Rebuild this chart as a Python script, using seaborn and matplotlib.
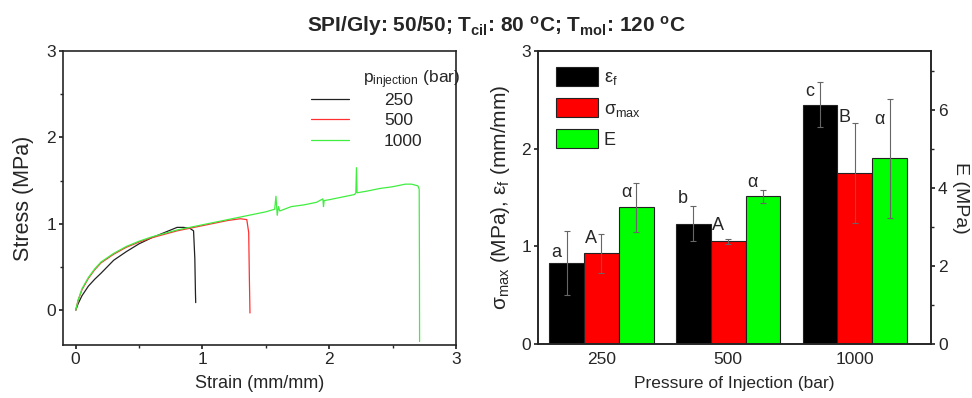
import pandas as pd
import matplotlib
matplotlib.use('Agg')
import matplotlib.pyplot as plt
import seaborn as sns

# stress-strain curves
strain_250 = [0, 0.02, 0.05, 0.1, 0.15, 0.2, 0.3, 0.4, 0.5, 0.6, 0.7, 0.8, 0.85, 0.9, 0.93, 0.94, 0.945, 0.947]
stress_250 = [0, 0.08, 0.17, 0.28, 0.36, 0.43, 0.58, 0.68, 0.77, 0.84, 0.9, 0.96, 0.96, 0.95, 0.92, 0.6, 0.2, 0.09]

strain_500 = [0, 0.02, 0.05, 0.1, 0.15, 0.2, 0.3, 0.4, 0.5, 0.6, 0.7, 0.8, 0.9, 1.0, 1.1, 1.2, 1.3, 1.35, 1.365, 1.37, 1.375]
stress_500 = [0, 0.12, 0.24, 0.37, 0.47, 0.55, 0.65, 0.73, 0.79, 0.84, 0.88, 0.92, 0.95, 0.98, 1.01, 1.04, 1.06, 1.05, 0.9, 0.4, -0.03]

strain_1000 = [0, 0.02, 0.05, 0.1, 0.15, 0.2, 0.3, 0.4, 0.5, 0.6,
               0.7, 0.8, 0.9, 1.0, 1.1, 1.2, 1.3, 1.4, 1.5, 1.57,
               1.58, 1.59, 1.6, 1.61, 1.7, 1.8, 1.9, 1.95, 1.955, 1.96,
               2.0, 2.1, 2.2, 2.21, 2.215, 2.22, 2.3, 2.4, 2.5, 2.6,
               2.65, 2.7, 2.71, 2.712, 2.713]
stress_1000 = [0, 0.12, 0.25, 0.38, 0.48, 0.56, 0.66, 0.74, 0.8, 0.85,
               0.89, 0.93, 0.96, 0.99, 1.02, 1.05, 1.08, 1.11, 1.14, 1.17,
               1.32, 1.1, 1.2, 1.15, 1.2, 1.22, 1.25, 1.29, 1.2, 1.27,
               1.28, 1.31, 1.34, 1.36, 1.65, 1.36, 1.38, 1.41, 1.43, 1.46,
               1.46, 1.44, 1.4, 0.5, -0.36]

# bar chart values
pressures = ['250', '500', '1000']
eps_f = [0.83, 1.23, 2.45]
eps_f_err = [0.33, 0.18, 0.23]
sigma_max = [0.93, 1.05, 1.75]
sigma_max_err = [0.20, 0.025, 0.51]
E_mpa = [3.50, 3.78, 4.75]
E_err = [0.63, 0.17, 1.53]

letters = [['a', 'b', 'c'], ['A', 'A', 'B'], ['α', 'α', 'α']]
letter_y = [[0.94, 1.49, 2.59], [1.08, 1.21, 2.32], [1.55, 1.65, 2.30]]

sns.set_theme(style='ticks')
plt.rcParams['font.family'] = ['Liberation Sans', 'DejaVu Sans']
plt.rcParams['mathtext.fontset'] = 'custom'
plt.rcParams['mathtext.rm'] = 'Liberation Sans'
plt.rcParams['mathtext.it'] = 'Liberation Sans:italic'
plt.rcParams['mathtext.bf'] = 'Liberation Sans:bold'
plt.rcParams['mathtext.default'] = 'regular'
plt.rcParams['axes.linewidth'] = 1.2
plt.rcParams['xtick.major.size'] = 3
plt.rcParams['ytick.major.size'] = 3
plt.rcParams['xtick.minor.size'] = 2
plt.rcParams['ytick.minor.size'] = 2

fig = plt.figure(figsize=(9.72, 3.98), dpi=100)
ax1 = fig.add_axes([0.0648, 0.1332, 0.4043, 0.7387])
ax2 = fig.add_axes([0.5535, 0.1357, 0.4043, 0.7362])

# left: stress-strain
curves = pd.concat([
    pd.DataFrame({'strain': strain_250, 'stress': stress_250, 'p': '250'}),
    pd.DataFrame({'strain': strain_500, 'stress': stress_500, 'p': '500'}),
    pd.DataFrame({'strain': strain_1000, 'stress': stress_1000, 'p': '1000'}),
])
line_colors = {'250': '#222222', '500': '#ff3030', '1000': '#40ee40'}
sns.lineplot(data=curves, x='strain', y='stress', hue='p', palette=line_colors,
             sort=False, estimator=None, linewidth=0.9, ax=ax1)
ax1.set_xlim(-0.1, 3)
ax1.set_ylim(-0.4, 3)
ax1.set_xticks([0, 1, 2, 3])
ax1.set_yticks([0, 1, 2, 3])
ax1.set_xticks([0.5, 1.5, 2.5], minor=True)
ax1.set_yticks([0.5, 1.5, 2.5], minor=True)
ax1.tick_params(labelsize=12.5, pad=2)
ax1.set_xlabel('Strain (mm/mm)', fontsize=13, labelpad=6)
ax1.set_ylabel('Stress (MPa)', fontsize=15.5, labelpad=9)
ax1.legend(frameon=False, fontsize=12.5, loc='upper left', bbox_to_anchor=(0.631, 0.858),
           borderpad=0, borderaxespad=0, handlelength=2.2, handletextpad=2.0,
           labelspacing=0.3)
ax1.text(0.763, 0.902, r'p$_{injection}$ (bar)', transform=ax1.transAxes,
         ha='left', va='center', fontsize=12.5)

# right: bars (E drawn on its own scale via conversion to the left axis)
E_scale = 3 / 7.5
bars = pd.DataFrame({
    'p': pressures * 3,
    'prop': ['eps'] * 3 + ['sigma'] * 3 + ['E'] * 3,
    'val': eps_f + sigma_max + [e * E_scale for e in E_mpa],
})
errs = [eps_f_err, sigma_max_err, [e * E_scale for e in E_err]]
bar_colors = {'eps': '#000000', 'sigma': '#ff0000', 'E': '#00ff00'}
sns.barplot(data=bars, x='p', y='val', hue='prop', order=pressures,
            hue_order=['eps', 'sigma', 'E'], palette=bar_colors, width=0.825, gap=0,
            saturation=1, edgecolor='#222222', linewidth=0.8, legend=False,
            errorbar=None, ax=ax2)

bar_groups = list(ax2.containers)[:3]
for i, cont in enumerate(bar_groups):
    xs = [b.get_x() + b.get_width() / 2 for b in cont]
    hs = [b.get_height() for b in cont]
    ax2.errorbar(xs, hs, yerr=errs[i], fmt='none', ecolor='#666666', elinewidth=0.8,
                 capsize=2.5, capthick=0.8)
    for x, lab, ly in zip(xs, letters[i], letter_y[i]):
        ax2.text(x - 0.08, ly, lab, ha='center', va='center', fontsize=13)

ax2.set_xlim(-0.5, 2.6)
ax2.set_ylim(0, 3)
ax2.set_yticks([0, 1, 2, 3])
ax2.tick_params(axis='x', length=0, labelsize=12.5, pad=6)
ax2.tick_params(axis='y', labelsize=12.5, pad=2)
ax2.set_xlabel('Pressure of Injection (bar)', fontsize=12.5, labelpad=6)
ax2.set_ylabel(r'$\sigma_{max}$ (MPa), $ε_f$ (mm/mm)', fontsize=15, labelpad=7)

ax3 = ax2.twinx()
ax3.set_ylim(0, 7.5)
ax3.set_yticks([0, 2, 4, 6])
ax3.set_yticks([1, 3, 5, 7], minor=True)
ax3.tick_params(labelsize=12.5, pad=2)
ax3.set_ylabel('E (MPa)', fontsize=14, rotation=-90, va='bottom', labelpad=3)
for sp in ax3.spines.values():
    sp.set_linewidth(1.2)

handles = [plt.Rectangle((0, 0), 1, 1, facecolor=c, edgecolor='#222222', linewidth=0.8)
           for c in bar_colors.values()]
ax2.legend(handles, [r'$ε_f$', r'$\sigma_{max}$', 'E'], loc='upper left',
           bbox_to_anchor=(0.046, 0.945), frameon=False, fontsize=13,
           borderpad=0, borderaxespad=0,
           handlelength=2.3, handleheight=1.2, handletextpad=0.35, labelspacing=0.6)

fig.text(0.511, 0.935, r'SPI/Gly: 50/50; T$_{\mathbf{cil}}$: 80 $^{\mathbf{o}}$C; T$_{\mathbf{mol}}$: 120 $^{\mathbf{o}}$C',
         ha='center', va='center', fontsize=15, fontweight='bold')

fig.savefig('out.png', dpi=100)
